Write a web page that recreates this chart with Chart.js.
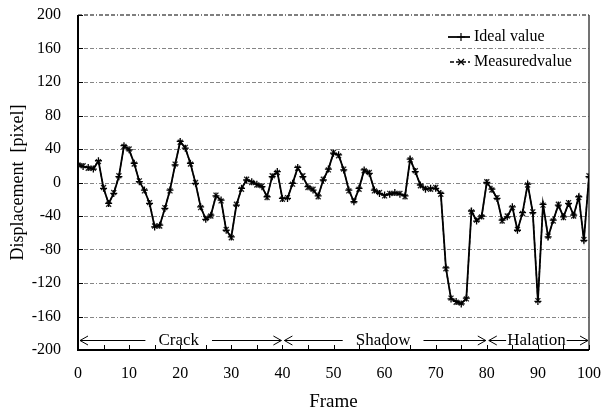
<!DOCTYPE html>
<html>
<head>
<meta charset="utf-8">
<script src="https://cdn.jsdelivr.net/npm/chart.js@4/dist/chart.umd.min.js"></script>
<style>
  html, body { margin: 0; padding: 0; background: #fff; }
  canvas { display: block; }
</style>
</head>
<body>
<canvas id="chart" width="602" height="414"></canvas>
<script>
// Frame index 0..100
const frames = Array.from({ length: 101 }, (_, i) => i);

// Ideal displacement per frame [pixel]
const idealValue = [
  22, 19, 18, 16, 26, -7, -25, -13, 7, 44,
  39, 23, 1, -9, -25, -53, -51, -31, -9, 21,
  49, 41, 23, -1, -29, -44, -39, -16, -21, -57,
  -65, -27, -7, 3, 1, -2, -5, -17, 7, 13,
  -19, -19, -1, 18, 7, -5, -9, -16, 3, 16,
  35, 33, 15, -9, -23, -7, 15, 11, -9, -13,
  -15, -14, -12, -14, -16, 28, 13, -3, -8, -7,
  -7, -13, -102, -139, -142, -145, -138, -34, -46, -40,
  0, -8, -19, -45, -41, -29, -57, -36, -2, -36,
  -142, -26, -65, -45, -27, -41, -25, -39, -17, -69,
  7
];

// Measured displacement per frame [pixel]
const measuredValue = [
  21, 20, 17, 17, 25, -6, -26, -12, 8, 43,
  40, 22, 2, -10, -24, -52, -52, -30, -10, 22,
  48, 42, 22, 0, -30, -43, -40, -15, -22, -56,
  -66, -26, -8, 4, 0, -3, -4, -18, 8, 12,
  -20, -18, -2, 17, 8, -6, -8, -17, 4, 15,
  36, 32, 16, -10, -22, -8, 14, 12, -10, -12,
  -16, -13, -13, -13, -17, 27, 14, -4, -7, -8,
  -6, -14, -103, -138, -143, -144, -139, -35, -45, -41,
  1, -9, -18, -46, -40, -30, -56, -37, -3, -35,
  -141, -27, -64, -46, -26, -42, -24, -40, -18, -68,
  8
];

// Scene segments along the frame axis
const sectionBounds = [0, 40, 80, 100];
const sectionNames = ['Crack', 'Shadow', 'Halation'];
const sectionLabelValue = -188;

// Axis ticks
const xTickStep = 10;
const xMinorStep = 5;
const yTickStep = 40;
const yMin = -200, yMax = 200;

const SERIF = "'Liberation Serif', 'Times New Roman', serif";
Chart.defaults.font.family = SERIF;
Chart.defaults.color = '#000';

// Plot frame, dash-dot grid and inward tick marks
const plotFrame = {
  id: 'plotFrame',
  beforeDatasetsDraw(chart) {
    const { ctx, chartArea: a, scales: { x, y } } = chart;
    ctx.save();
    ctx.lineWidth = 1;
    ctx.strokeStyle = '#858585';
    ctx.setLineDash([4, 2, 4, 2, 4, 2, 1, 2]);
    y.ticks.forEach(t => {
      if (t.value === y.min || t.value === y.max) return;
      const py = Math.round(y.getPixelForValue(t.value)) + 0.5;
      ctx.beginPath(); ctx.moveTo(a.left, py); ctx.lineTo(a.right, py); ctx.stroke();
    });
    // top edge
    ctx.strokeStyle = '#555';
    ctx.lineWidth = 1.5;
    ctx.beginPath(); ctx.moveTo(a.left, a.top); ctx.lineTo(a.right, a.top); ctx.stroke();
    ctx.setLineDash([]);
    // right edge
    ctx.strokeStyle = '#444';
    ctx.beginPath(); ctx.moveTo(a.right, a.top); ctx.lineTo(a.right, a.bottom); ctx.stroke();
    // left and bottom axes
    ctx.strokeStyle = '#000';
    ctx.lineWidth = 2;
    ctx.beginPath();
    ctx.moveTo(a.left, a.top); ctx.lineTo(a.left, a.bottom); ctx.lineTo(a.right, a.bottom);
    ctx.stroke();
    // inward tick marks
    ctx.lineWidth = 1;
    y.ticks.forEach(t => {
      const py = Math.round(y.getPixelForValue(t.value)) + 0.5;
      ctx.beginPath(); ctx.moveTo(a.left, py); ctx.lineTo(a.left + 5, py); ctx.stroke();
    });
    for (let f = x.min; f <= x.max; f += xMinorStep) {
      const px = Math.round(x.getPixelForValue(f)) + 0.5;
      ctx.beginPath(); ctx.moveTo(px, a.bottom); ctx.lineTo(px, a.bottom - 5); ctx.stroke();
    }
    ctx.restore();
  }
};

// Segment arrows with names, and the in-plot legend
const overlays = {
  id: 'overlays',
  afterDraw(chart) {
    const { ctx, chartArea: a, scales: { x, y } } = chart;
    ctx.save();
    const py = Math.round(y.getPixelForValue(sectionLabelValue)) + 0.5;
    const gaps = [13, 13, 1];
    ctx.font = `17px ${SERIF}`;
    ctx.textAlign = 'center';
    ctx.textBaseline = 'middle';
    ctx.strokeStyle = '#000';
    ctx.fillStyle = '#000';
    ctx.lineWidth = 1;
    const head = (px, dir) => {
      ctx.beginPath();
      ctx.moveTo(px + dir * 8, py - 4.5);
      ctx.lineTo(px, py);
      ctx.lineTo(px + dir * 8, py + 4.5);
      ctx.stroke();
    };
    sectionNames.forEach((name, i) => {
      const x0 = x.getPixelForValue(sectionBounds[i]) + 2;
      const x1 = x.getPixelForValue(sectionBounds[i + 1]) - 1;
      const cx = (x0 + x1) / 2 - 2;
      const w = ctx.measureText(name).width;
      ctx.fillText(name, cx, py);
      ctx.beginPath();
      ctx.moveTo(x0, py); ctx.lineTo(cx - w / 2 - gaps[i], py);
      ctx.moveTo(cx + w / 2 + gaps[i], py); ctx.lineTo(x1, py);
      ctx.stroke();
      head(x0, 1);
      head(x1, -1);
    });

    // legend
    const ds = chart.data.datasets;
    const lx = a.right - 141, tx = a.right - 115;
    const rows = [a.top + 22, a.top + 47];
    ctx.font = `16px ${SERIF}`;
    ctx.textAlign = 'left';
    rows.forEach((ry, i) => {
      const d = ds[i];
      ctx.strokeStyle = '#000';
      ctx.lineWidth = d.borderWidth;
      ctx.setLineDash(d.borderDash || []);
      ctx.beginPath(); ctx.moveTo(lx + (i ? 2 : 0), ry); ctx.lineTo(tx - 4, ry); ctx.stroke();
      ctx.setLineDash([]);
      const mx = lx + 13;
      ctx.lineWidth = 1.2;
      ctx.beginPath();
      if (i === 0) {
        ctx.moveTo(mx - 4, ry); ctx.lineTo(mx + 4, ry);
        ctx.moveTo(mx, ry - 4); ctx.lineTo(mx, ry + 4);
      } else {
        ctx.moveTo(mx - 3, ry - 3); ctx.lineTo(mx + 3, ry + 3);
        ctx.moveTo(mx - 3, ry + 3); ctx.lineTo(mx + 3, ry - 3);
      }
      ctx.stroke();
      ctx.fillText(d.label, tx, ry);
    });
    ctx.restore();
  }
};

new Chart(document.getElementById('chart'), {
  type: 'line',
  data: {
    datasets: [
      {
        label: 'Ideal value',
        data: idealValue.map((v, i) => ({ x: frames[i], y: v })),
        borderColor: '#000',
        backgroundColor: '#000',
        borderWidth: 1.8,
        pointStyle: 'cross',
        pointRadius: 3.5,
        pointBorderWidth: 1.3,
        pointBorderColor: '#000',
        fill: false,
        tension: 0
      },
      {
        label: 'Measuredvalue',
        data: measuredValue.map((v, i) => ({ x: frames[i], y: v })),
        borderColor: '#222',
        backgroundColor: '#222',
        borderWidth: 1.3,
        borderDash: [4, 2],
        pointStyle: 'crossRot',
        pointRadius: 3.5,
        pointBorderWidth: 1.3,
        pointBorderColor: '#222',
        fill: false,
        tension: 0
      }
    ]
  },
  options: {
    responsive: false,
    animation: false,
    devicePixelRatio: 1,
    layout: { padding: { top: 15, right: 13, left: 0, bottom: 0 } },
    plugins: { legend: { display: false }, tooltip: { enabled: false } },
    scales: {
      x: {
        type: 'linear',
        min: 0, max: 100,
        grid: { display: false },
        border: { display: false },
        ticks: { stepSize: xTickStep, font: { size: 16 }, color: '#000', padding: 6, maxRotation: 0 },
        title: { display: true, text: 'Frame', font: { size: 19 }, color: '#000', padding: { top: 0, bottom: 1 } },
        afterFit(scale) {
          scale.height = 64;
          scale.paddingLeft = 0;
          scale.paddingRight = 0;
        }
      },
      y: {
        min: yMin, max: yMax,
        grid: { display: false },
        border: { display: false },
        ticks: { stepSize: yTickStep, font: { size: 16 }, color: '#000', padding: 9 },
        title: { display: true, text: 'Displacement  [pixel]', font: { size: 18 }, color: '#000', padding: { top: 7, bottom: 0 } },
        afterFit(scale) {
          scale.width = 78;
          scale.paddingTop = 0;
          scale.paddingBottom = 0;
        }
      }
    }
  },
  plugins: [plotFrame, overlays]
});
</script>
</body>
</html>
